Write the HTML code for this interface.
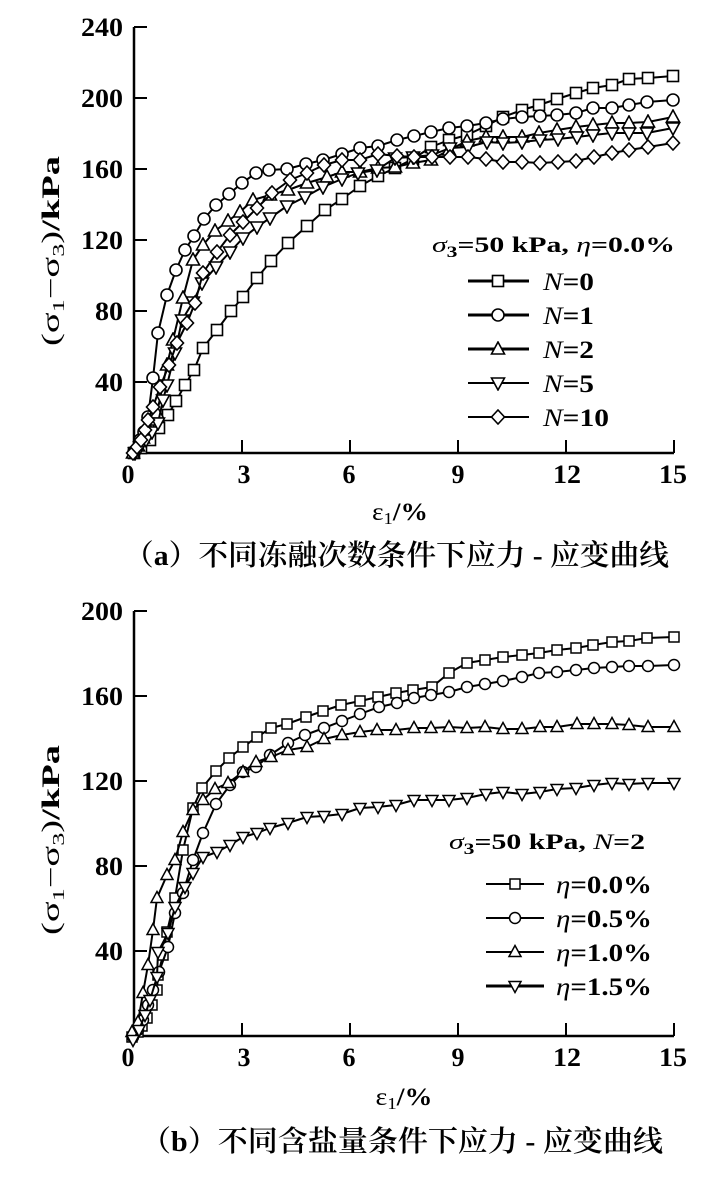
<!DOCTYPE html>
<html><head><meta charset="utf-8"><style>
html,body{margin:0;padding:0;background:#fff;}
svg{display:block;font-family:"Liberation Serif","Times New Roman",Times,serif;}
text{font-family:"Liberation Serif","Times New Roman",Times,"Noto Serif CJK SC",serif;fill:#000;}
text.cap{font-family:"Liberation Serif","Noto Serif CJK SC",serif;font-weight:600;}
.ser{fill:none;stroke:#000;stroke-width:2;stroke-linejoin:round;}
</style></head><body>
<svg width="710" height="1177" viewBox="0 0 710 1177" xmlns="http://www.w3.org/2000/svg" font-family="Liberation Serif, Times New Roman, serif">
<defs>
<marker id="sq" viewBox="-8 -8 16 16" markerWidth="16" markerHeight="16" refX="0" refY="0" markerUnits="userSpaceOnUse" orient="0"><rect x="-5.5" y="-5.5" width="11" height="11" fill="#fff" stroke="#000" stroke-width="1.6"/></marker>
<marker id="ci" viewBox="-8 -8 16 16" markerWidth="16" markerHeight="16" refX="0" refY="0" markerUnits="userSpaceOnUse" orient="0"><circle r="6" fill="#fff" stroke="#000" stroke-width="1.6"/></marker>
<marker id="tu" viewBox="-8 -8 16 16" markerWidth="16" markerHeight="16" refX="0" refY="0" markerUnits="userSpaceOnUse" orient="0"><polygon points="0,-7 6.5,5 -6.5,5" fill="#fff" stroke="#000" stroke-width="1.6" stroke-linejoin="miter"/></marker>
<marker id="td" viewBox="-8 -8 16 16" markerWidth="16" markerHeight="16" refX="0" refY="0" markerUnits="userSpaceOnUse" orient="0"><polygon points="0,7 6.5,-5 -6.5,-5" fill="#fff" stroke="#000" stroke-width="1.6"/></marker>
<marker id="di" viewBox="-8 -8 16 16" markerWidth="16" markerHeight="16" refX="0" refY="0" markerUnits="userSpaceOnUse" orient="0"><polygon points="0,-7 6.5,0 0,7 -6.5,0" fill="#fff" stroke="#000" stroke-width="1.6"/></marker>
<marker id="sq2" viewBox="-8 -8 16 16" markerWidth="16" markerHeight="16" refX="0" refY="0" markerUnits="userSpaceOnUse" orient="0"><rect x="-5" y="-5" width="10" height="10" fill="#fff" stroke="#000" stroke-width="1.5"/></marker>
<marker id="ci2" viewBox="-8 -8 16 16" markerWidth="16" markerHeight="16" refX="0" refY="0" markerUnits="userSpaceOnUse" orient="0"><circle r="5.5" fill="#fff" stroke="#000" stroke-width="1.5"/></marker>
<marker id="tu2" viewBox="-8 -8 16 16" markerWidth="16" markerHeight="16" refX="0" refY="0" markerUnits="userSpaceOnUse" orient="0"><polygon points="0,-6.5 6,4.5 -6,4.5" fill="#fff" stroke="#000" stroke-width="1.5"/></marker>
<marker id="td2" viewBox="-8 -8 16 16" markerWidth="16" markerHeight="16" refX="0" refY="0" markerUnits="userSpaceOnUse" orient="0"><polygon points="0,6.5 6,-4.5 -6,-4.5" fill="#fff" stroke="#000" stroke-width="1.5"/></marker>
</defs>

<!-- ===== TOP CHART ===== -->
<g stroke="#000" stroke-width="2.5" fill="none">
<polyline points="134,27 134,453 674,453"/>
</g>
<g stroke="#000" stroke-width="2">
<line x1="134" y1="27" x2="147" y2="27"/>
<line x1="134" y1="98" x2="147" y2="98"/>
<line x1="134" y1="169" x2="147" y2="169"/>
<line x1="134" y1="240" x2="147" y2="240"/>
<line x1="134" y1="311" x2="147" y2="311"/>
<line x1="134" y1="382" x2="147" y2="382"/>
<line x1="242" y1="453" x2="242" y2="440"/>
<line x1="350" y1="453" x2="350" y2="440"/>
<line x1="458" y1="453" x2="458" y2="440"/>
<line x1="566" y1="453" x2="566" y2="440"/>
<line x1="674" y1="453" x2="674" y2="440"/>
</g>
<g font-size="26" font-weight="bold" text-anchor="end">
<text x="123" y="36" textLength="42" lengthAdjust="spacingAndGlyphs">240</text>
<text x="123" y="107" textLength="42" lengthAdjust="spacingAndGlyphs">200</text>
<text x="123" y="178" textLength="42" lengthAdjust="spacingAndGlyphs">160</text>
<text x="123" y="249" textLength="42" lengthAdjust="spacingAndGlyphs">120</text>
<text x="123" y="320" textLength="28" lengthAdjust="spacingAndGlyphs">80</text>
<text x="123" y="391" textLength="28" lengthAdjust="spacingAndGlyphs">40</text>
</g>
<g font-size="26" font-weight="bold" text-anchor="middle">
<text x="128" y="483">0</text>
<text x="244" y="483">3</text>
<text x="349" y="483">6</text>
<text x="458" y="483">9</text>
<text x="567" y="483" textLength="28" lengthAdjust="spacingAndGlyphs">12</text>
<text x="673" y="483" textLength="28" lengthAdjust="spacingAndGlyphs">15</text>
</g>
<text transform="translate(59,251) rotate(-90)" text-anchor="middle" font-size="25" textLength="190" lengthAdjust="spacingAndGlyphs">(σ<tspan font-size="17" dy="5">1</tspan><tspan dy="-5">−σ</tspan><tspan font-size="17" dy="5">3</tspan><tspan dy="-5">)</tspan><tspan font-weight="bold">/kPa</tspan></text>
<text x="400" y="520" text-anchor="middle" font-size="25" textLength="56" lengthAdjust="spacingAndGlyphs">ε<tspan font-size="17" dy="4">1</tspan><tspan dy="-4" font-weight="bold">/%</tspan></text>

<!-- series top -->
<polyline class="ser" marker-start="url(#sq)" marker-mid="url(#sq)" marker-end="url(#sq)" points="134,453 141,448 150,440 159,428 168,415 176,401 185,385 194,370 203,348 217,330 231,311 243,297 257,278 271,261 288,243 307,226 325,210 342,199 360,186 378,176 395,168 413,159 431,147 449,140 467,135 486,126 503,117 522,110 539,105 557,99 576,93 593,88 612,85 629,79 648,78 673,76"/>
<polyline class="ser" marker-start="url(#ci)" marker-mid="url(#ci)" marker-end="url(#ci)" points="134,452 140,440 144,432 148,417 153,378 158,333 167,295 176,270 185,250 194,236 204,219 216,205 229,194 242,183 256,173 269,170 287,169 306,164 323,160 342,154 360,148 378,146 397,140 414,136 431,132 449,128 467,126 486,123 503,119 522,117 540,116 557,115 576,113 593,108 612,108 629,105 647,102 673,100"/>
<polyline class="ser" marker-start="url(#tu)" marker-mid="url(#tu)" marker-end="url(#tu)" points="133,453 138,446 143,438 148,428 153,420 157,413 167,365 173,340 183,298 193,260 203,245 215,231 228,221 240,212 253,200 270,195 288,190 307,183 327,177 342,172 360,172 378,168 395,167 413,163 431,160 449,150 467,141 486,137 503,137 522,137 539,133 557,130 576,127 593,125 612,123 629,123 648,122 673,117"/>
<polyline class="ser" stroke-width="1.6" marker-start="url(#td)" marker-mid="url(#td)" marker-end="url(#td)" points="135,453 140,447 146,440 152,432 158,423 163,400 167,385 175,353 182,320 193,302 202,283 216,267 230,252 243,238 257,227 270,218 287,206 305,197 323,187 342,179 358,173 377,170 395,158 413,157 432,155 450,148 468,147 487,142 503,143 522,142 540,140 558,139 577,137 593,135 612,133 629,133 647,133 673,128"/>
<polyline class="ser" stroke-width="1.6" marker-start="url(#di)" marker-mid="url(#di)" marker-end="url(#di)" points="133,453 137,447 141,440 145,430 148,420 153,407 160,387 169,365 177,343 187,323 195,303 203,273 217,252 230,235 243,222 257,208 272,193 290,180 307,173 324,165 342,160 360,160 378,154 397,156 414,157 432,157 450,157 468,157 486,159 503,162 522,162 540,163 558,162 576,161 594,157 612,153 629,150 648,147 673,143"/>

<!-- legend top -->
<text x="432" y="252" font-size="22" font-weight="bold" textLength="243" lengthAdjust="spacingAndGlyphs"><tspan font-style="italic" font-weight="normal">σ</tspan><tspan font-size="16" dy="5">3</tspan><tspan dy="-5">=50 kPa, </tspan><tspan font-style="italic" font-weight="normal">η</tspan>=0.0%</text>
<polyline fill="none" stroke="#000" stroke-width="3" marker-mid="url(#sq)" points="468,281 498,281 529,281"/>
<polyline fill="none" stroke="#000" stroke-width="3" marker-mid="url(#ci)" points="468,315 498,315 529,315"/>
<polyline fill="none" stroke="#000" stroke-width="3" marker-mid="url(#tu)" points="468,349 498,349 529,349"/>
<polyline fill="none" stroke="#000" stroke-width="2" marker-mid="url(#td)" points="468,383 498,383 529,383"/>
<polyline fill="none" stroke="#000" stroke-width="2" marker-mid="url(#di)" points="468,417 498,417 529,417"/>
<g font-size="25" font-weight="bold">
<text x="543" y="290" textLength="51" lengthAdjust="spacingAndGlyphs"><tspan font-style="italic" font-weight="normal">N</tspan>=0</text>
<text x="543" y="324" textLength="51" lengthAdjust="spacingAndGlyphs"><tspan font-style="italic" font-weight="normal">N</tspan>=1</text>
<text x="543" y="358" textLength="51" lengthAdjust="spacingAndGlyphs"><tspan font-style="italic" font-weight="normal">N</tspan>=2</text>
<text x="543" y="392" textLength="51" lengthAdjust="spacingAndGlyphs"><tspan font-style="italic" font-weight="normal">N</tspan>=5</text>
<text x="543" y="426" textLength="66" lengthAdjust="spacingAndGlyphs"><tspan font-style="italic" font-weight="normal">N</tspan>=10</text>
</g>

<text class="cap" x="124" y="565" font-size="29" textLength="545" lengthAdjust="spacingAndGlyphs">（<tspan font-weight="bold">a</tspan>）不同冻融次数条件下应力 - 应变曲线</text>

<!-- ===== BOTTOM CHART ===== -->
<g stroke="#000" stroke-width="2.5" fill="none">
<polyline points="134,611 134,1036 674,1036"/>
</g>
<g stroke="#000" stroke-width="2">
<line x1="134" y1="611" x2="147" y2="611"/>
<line x1="134" y1="696" x2="147" y2="696"/>
<line x1="134" y1="781" x2="147" y2="781"/>
<line x1="134" y1="866" x2="147" y2="866"/>
<line x1="134" y1="951" x2="147" y2="951"/>
<line x1="242" y1="1036" x2="242" y2="1023"/>
<line x1="350" y1="1036" x2="350" y2="1023"/>
<line x1="458" y1="1036" x2="458" y2="1023"/>
<line x1="566" y1="1036" x2="566" y2="1023"/>
<line x1="674" y1="1036" x2="674" y2="1023"/>
</g>
<g font-size="26" font-weight="bold" text-anchor="end">
<text x="123" y="620" textLength="42" lengthAdjust="spacingAndGlyphs">200</text>
<text x="123" y="705" textLength="42" lengthAdjust="spacingAndGlyphs">160</text>
<text x="123" y="790" textLength="42" lengthAdjust="spacingAndGlyphs">120</text>
<text x="123" y="875" textLength="28" lengthAdjust="spacingAndGlyphs">80</text>
<text x="123" y="960" textLength="28" lengthAdjust="spacingAndGlyphs">40</text>
</g>
<g font-size="26" font-weight="bold" text-anchor="middle">
<text x="128" y="1066">0</text>
<text x="244" y="1066">3</text>
<text x="349" y="1066">6</text>
<text x="458" y="1066">9</text>
<text x="567" y="1066" textLength="28" lengthAdjust="spacingAndGlyphs">12</text>
<text x="673" y="1066" textLength="28" lengthAdjust="spacingAndGlyphs">15</text>
</g>
<text transform="translate(59,840) rotate(-90)" text-anchor="middle" font-size="25" textLength="190" lengthAdjust="spacingAndGlyphs">(σ<tspan font-size="17" dy="5">1</tspan><tspan dy="-5">−σ</tspan><tspan font-size="17" dy="5">3</tspan><tspan dy="-5">)</tspan><tspan font-weight="bold">/kPa</tspan></text>
<text x="404" y="1105" text-anchor="middle" font-size="25" textLength="57" lengthAdjust="spacingAndGlyphs">ε<tspan font-size="17" dy="4">1</tspan><tspan dy="-4" font-weight="bold">/%</tspan></text>

<!-- series bottom -->
<polyline class="ser" marker-start="url(#sq2)" marker-mid="url(#sq2)" marker-end="url(#sq2)" points="132,1037 138,1032 142,1026 147,1018 152,1005 157,990 158,975 163,955 167,932 175,898 183,850 193,808 202,788 216,771 229,758 243,747 257,737 271,728 287,724 306,717 323,711 341,705 360,701 378,697 396,693 413,690 432,687 449,673 467,663 485,660 503,657 522,655 539,653 557,650 576,648 593,645 612,642 629,641 647,638 674,637"/>
<polyline class="ser" stroke-width="1.6" marker-start="url(#ci2)" marker-mid="url(#ci2)" marker-end="url(#ci2)" points="133,1037 138,1030 143,1020 148,1005 153,990 159,972 168,947 175,913 183,893 193,860 203,833 216,804 230,785 243,772 256,767 270,755 288,743 305,735 324,728 342,721 360,714 379,707 397,703 414,698 431,695 449,692 467,687 485,684 503,681 522,677 539,673 557,672 576,670 594,668 612,667 629,666 648,666 674,665"/>
<polyline class="ser" stroke-width="1.6" marker-start="url(#tu2)" marker-mid="url(#tu2)" marker-end="url(#tu2)" points="132,1032 138,1022 143,993 148,965 153,930 157,898 167,875 175,860 183,832 193,810 203,800 215,789 228,783 243,772 256,762 271,757 288,750 307,747 324,739 342,735 360,732 377,730 396,730 414,728 431,728 449,727 467,728 485,727 503,729 522,729 540,727 557,727 577,724 594,724 612,724 629,725 648,727 674,727"/>
<polyline class="ser" marker-start="url(#td2)" marker-mid="url(#td2)" marker-end="url(#td2)" points="133,1040 139,1030 145,1015 150,1000 157,977 158,952 168,933 175,907 185,887 193,873 203,857 217,852 230,845 243,837 257,833 270,828 288,823 307,817 324,816 342,814 360,808 378,807 396,805 414,800 432,800 449,800 467,798 486,794 503,792 522,794 540,792 557,789 576,788 594,785 612,783 629,784 648,783 674,783"/>

<!-- legend bottom -->
<text x="449" y="849" font-size="22" font-weight="bold" textLength="196" lengthAdjust="spacingAndGlyphs"><tspan font-style="italic" font-weight="normal">σ</tspan><tspan font-size="16" dy="5">3</tspan><tspan dy="-5">=50 kPa, </tspan><tspan font-style="italic" font-weight="normal">N</tspan>=2</text>
<polyline fill="none" stroke="#000" stroke-width="2" marker-mid="url(#sq2)" points="486,884 515,884 544,884"/>
<polyline fill="none" stroke="#000" stroke-width="2" marker-mid="url(#ci2)" points="486,918 515,918 544,918"/>
<polyline fill="none" stroke="#000" stroke-width="2" marker-mid="url(#tu2)" points="486,952 515,952 544,952"/>
<polyline fill="none" stroke="#000" stroke-width="3" marker-mid="url(#td2)" points="486,986 515,986 544,986"/>
<g font-size="25" font-weight="bold">
<text x="556" y="893" textLength="96" lengthAdjust="spacingAndGlyphs"><tspan font-style="italic" font-weight="normal">η</tspan>=0.0%</text>
<text x="556" y="927" textLength="96" lengthAdjust="spacingAndGlyphs"><tspan font-style="italic" font-weight="normal">η</tspan>=0.5%</text>
<text x="556" y="961" textLength="96" lengthAdjust="spacingAndGlyphs"><tspan font-style="italic" font-weight="normal">η</tspan>=1.0%</text>
<text x="556" y="995" textLength="96" lengthAdjust="spacingAndGlyphs"><tspan font-style="italic" font-weight="normal">η</tspan>=1.5%</text>
</g>

<text class="cap" x="141" y="1151" font-size="29" textLength="522" lengthAdjust="spacingAndGlyphs">（<tspan font-weight="bold">b</tspan>）不同含盐量条件下应力 - 应变曲线</text>
</svg>
</body></html>
